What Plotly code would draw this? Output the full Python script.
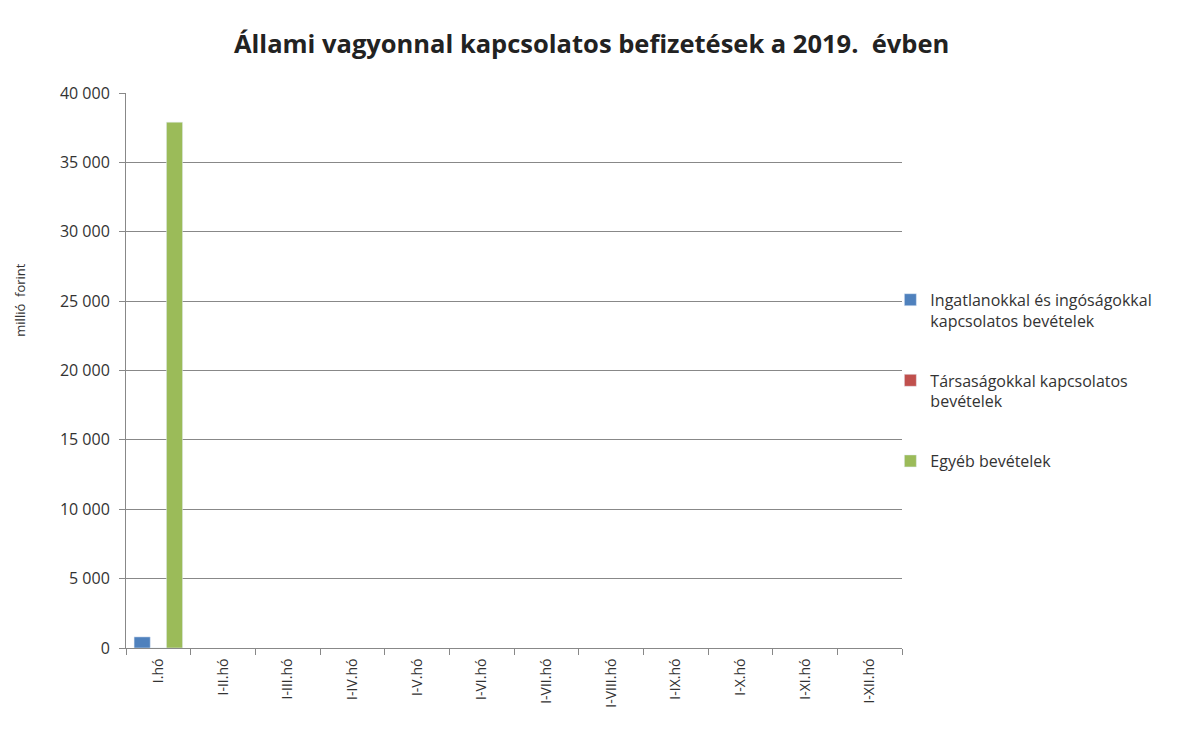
import plotly.graph_objects as go

categories = ["I.hó", "I-II.hó", "I-III.hó", "I-IV.hó", "I-V.hó", "I-VI.hó",
              "I-VII.hó", "I-VIII.hó", "I-IX.hó", "I-X.hó", "I-XI.hó", "I-XII.hó"]
ingatlan = [800, None, None, None, None, None, None, None, None, None, None, None]
tarsasag = [0, None, None, None, None, None, None, None, None, None, None, None]
egyeb = [37900, None, None, None, None, None, None, None, None, None, None, None]

series_names = ["Ingatlanokkal és ingóságokkal<br>kapcsolatos bevételek",
                "Társaságokkal kapcsolatos<br>bevételek",
                "Egyéb bevételek"]
colors = ["#4F81BD", "#C0504D", "#9BBB59"]

fig = go.Figure()
for i, (name, vals, col) in enumerate(zip(series_names, [ingatlan, tarsasag, egyeb], colors)):
    fig.add_trace(go.Bar(x=categories, y=vals, name=name, marker_color=col,
                         legendgroup=str(i)))

fig.update_layout(
    width=1185, height=731,
    paper_bgcolor="white", plot_bgcolor="white",
    separators=", ",
    font=dict(family="Open Sans, DejaVu Sans, sans-serif", size=15, color="#333"),
    title=dict(text="<b>Állami vagyonnal kapcsolatos befizetések a 2019.  évben</b>",
               x=0.4925, xanchor="center", y=0.950, yanchor="middle",
               font=dict(size=25.5, color="#222")),
    margin=dict(l=118, r=291, t=85, b=91),
    barmode="group", bargap=0.25, bargroupgap=0,
    showlegend=True,
    legend=dict(x=0.985, xanchor="left", y=0.658, yanchor="top",
                traceorder="grouped", tracegroupgap=36, valign="top",
                bgcolor="rgba(0,0,0,0)",
                font=dict(size=16, color="#333"), itemwidth=30),
    annotations=[dict(text="millió  forint", xref="paper", yref="paper",
                      x=-0.137, y=0.627, xanchor="center", yanchor="middle",
                      textangle=-90, showarrow=False,
                      font=dict(size=13, color="#333"))],
)
fig.update_yaxes(range=[0, 40000], dtick=5000, tickformat=",d", automargin=False,
                 showgrid=True, gridcolor="#888888", gridwidth=1,
                 showline=True, linecolor="#888888", linewidth=1,
                 ticks="outside", ticklen=6, tickcolor="#888888",
                 ticklabelstandoff=6,
                 zeroline=False, tickfont=dict(size=16))
fig.update_xaxes(type="category", tickangle=-90, tickson="boundaries", automargin=False,
                 showline=True, linecolor="#888888", linewidth=1,
                 ticks="outside", ticklen=6, tickcolor="#888888",
                 ticklabelstandoff=4,
                 tickfont=dict(size=14))

fig.write_html("out.html")
